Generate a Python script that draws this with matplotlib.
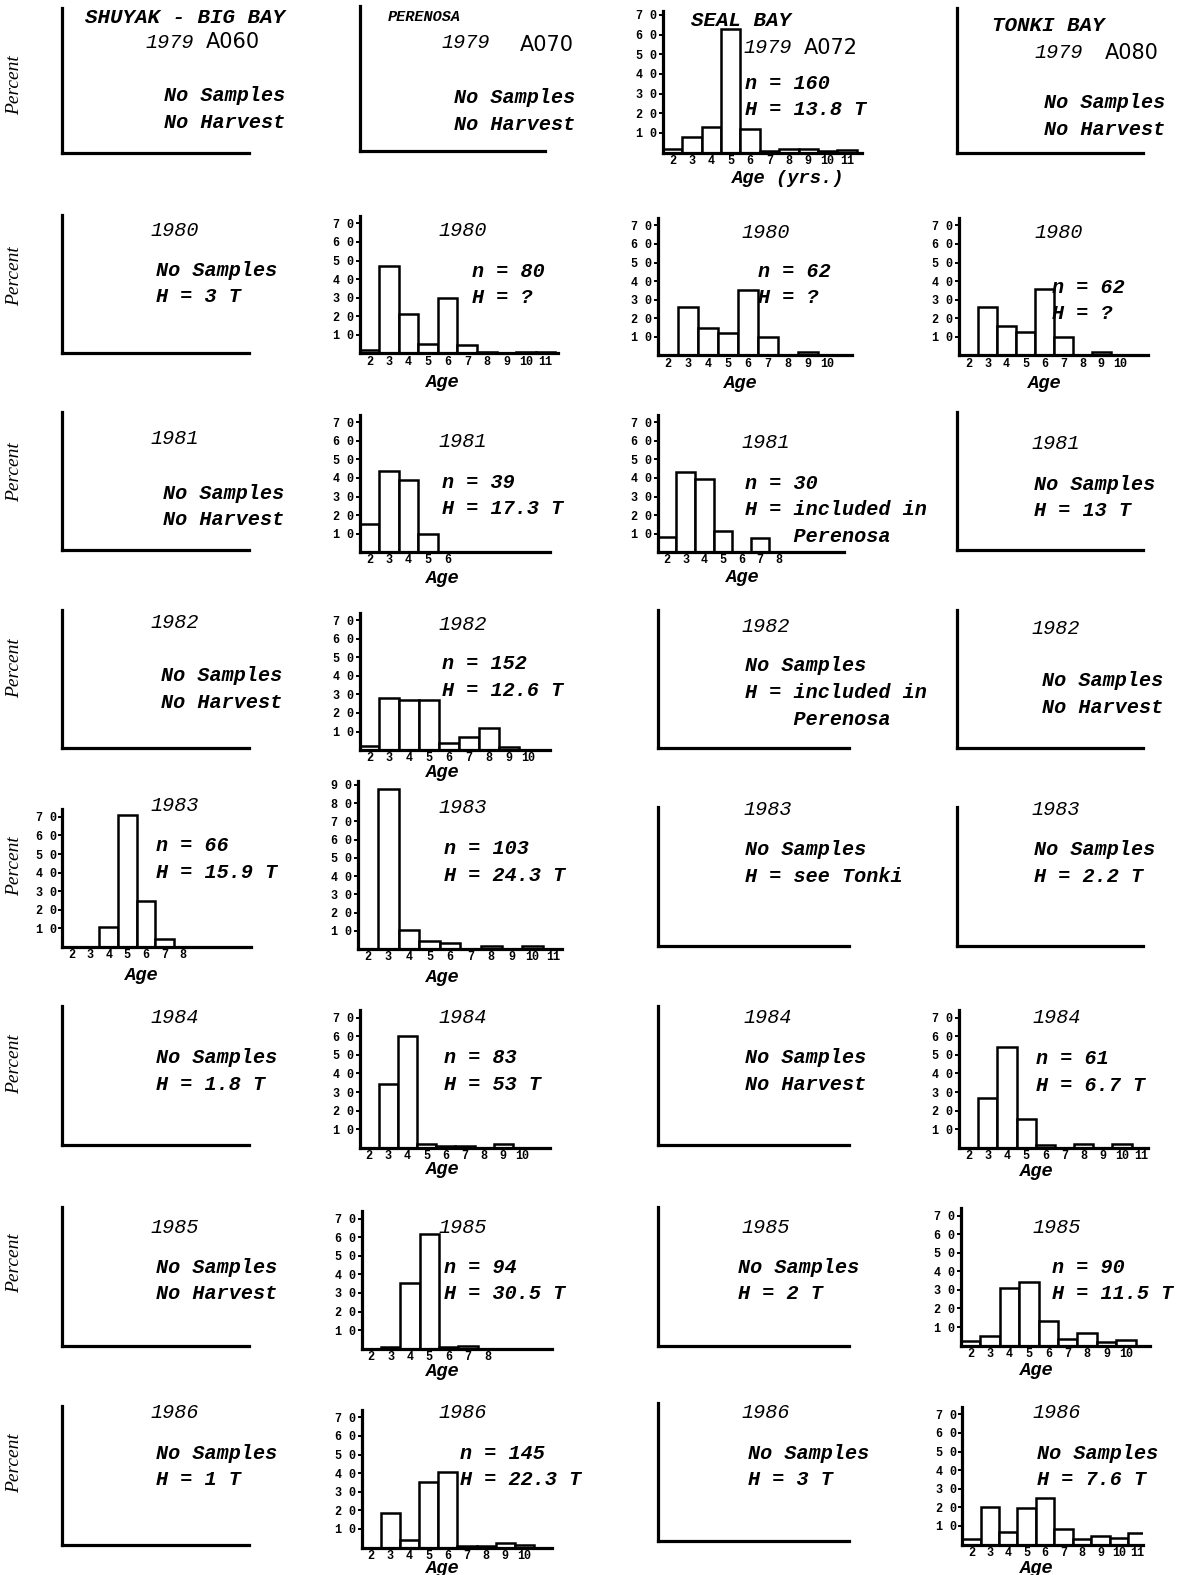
import matplotlib
matplotlib.use("Agg")
import matplotlib.pyplot as plt

# ---------------- data (percent by age) ----------------
ages = [2, 3, 4, 5, 6, 7, 8, 9, 10, 11]
areas = ["SHUYAK - BIG BAY", "PERENOSA", "SEAL BAY", "TONKI BAY"]
area_codes = ["A060", "A070", "A072", "A080"]
years = ["1979", "1980", "1981", "1982", "1983", "1984", "1985", "1986"]

seal_1979 = [2, 8, 13, 63, 12, 1, 2, 2, 1, 1.5]
perenosa_1980 = [2, 47, 21, 5, 30, 4.5, 1, 0, 1, 1]
seal_1980 = [0, 26, 15, 12, 35, 10, 0, 2, 0]
tonki_1980 = [0, 26, 16, 12.5, 35.5, 10, 0, 2, 0]
perenosa_1981 = [15, 44, 39, 10, 0]
seal_1981 = [8, 43, 39.5, 11.5, 0, 7.5, 0]
perenosa_1982 = [2, 28, 27, 27, 4, 7, 12, 1.5, 0]
shuyak_1983 = [0, 0, 11, 71, 25, 4.5, 0]
perenosa_1983 = [0, 88, 10.5, 4.5, 3.5, 0, 1.5, 0, 1.5, 0]
perenosa_1984 = [0, 34.5, 60, 2, 1, 1, 0, 2, 0]
tonki_1984 = [0, 27, 54.5, 15.5, 1.3, 0, 1.8, 0, 1.8, 0]
perenosa_1985 = [0, 0.7, 35.5, 61.5, 0.7, 1.2, 0]
tonki_1985 = [2.5, 5.3, 30.8, 34.4, 13.4, 3.6, 6.8, 1.8, 3.2]
perenosa_1986 = [0, 18.5, 4, 35, 40.5, 1, 1, 2.2, 1.3]
tonki_1986 = [3, 20, 6.5, 19.5, 25, 8.5, 3, 4.5, 3.3, 6]

# annotations per (row, col)
notes = {
    (0, 0): ["No Samples", "No Harvest"], (0, 1): ["No Samples", "No Harvest"],
    (0, 2): ["n = 160", "H = 13.8 T"], (0, 3): ["No Samples", "No Harvest"],
    (1, 0): ["No Samples", "H = 3 T"], (1, 1): ["n = 80", "H = ?"],
    (1, 2): ["n = 62", "H = ?"], (1, 3): ["n = 62", "H = ?"],
    (2, 0): ["No Samples", "No Harvest"], (2, 1): ["n = 39", "H = 17.3 T"],
    (2, 2): ["n = 30", "H = included in", "    Perenosa"], (2, 3): ["No Samples", "H = 13 T"],
    (3, 0): ["No Samples", "No Harvest"], (3, 1): ["n = 152", "H = 12.6 T"],
    (3, 2): ["No Samples", "H = included in", "    Perenosa"], (3, 3): ["No Samples", "No Harvest"],
    (4, 0): ["n = 66", "H = 15.9 T"], (4, 1): ["n = 103", "H = 24.3 T"],
    (4, 2): ["No Samples", "H = see Tonki"], (4, 3): ["No Samples", "H = 2.2 T"],
    (5, 0): ["No Samples", "H = 1.8 T"], (5, 1): ["n = 83", "H = 53 T"],
    (5, 2): ["No Samples", "No Harvest"], (5, 3): ["n = 61", "H = 6.7 T"],
    (6, 0): ["No Samples", "No Harvest"], (6, 1): ["n = 94", "H = 30.5 T"],
    (6, 2): ["No Samples", "H = 2 T"], (6, 3): ["n = 90", "H = 11.5 T"],
    (7, 0): ["No Samples", "H = 1 T"], (7, 1): ["n = 145", "H = 22.3 T"],
    (7, 2): ["No Samples", "H = 3 T"], (7, 3): ["No Samples", "H = 7.6 T"],
}

hist_data = {
    (0, 2): seal_1979, (1, 1): perenosa_1980, (1, 2): seal_1980, (1, 3): tonki_1980,
    (2, 1): perenosa_1981, (2, 2): seal_1981, (3, 1): perenosa_1982,
    (4, 0): shuyak_1983, (4, 1): perenosa_1983, (5, 1): perenosa_1984,
    (5, 3): tonki_1984, (6, 1): perenosa_1985, (6, 3): tonki_1985,
    (7, 1): perenosa_1986, (7, 3): tonki_1986,
}

# ---------------- layout (pixel positions in reference image) ----------------
W, H = 1186, 1575
S = 1186 / 1181
fig = plt.figure(figsize=(W / 100, H / 100), dpi=100)

MONO = "Liberation Mono"
SERIF = "Liberation Serif"

col_left = [62, 358, 655, 953]
row_bottom = [
    [152, 150, 152, 152],
    [352, 352, 354, 354],
    [548, 550, 550, 548],
    [745, 747, 745, 745],
    [943, 945, 942, 942],
    [1140, 1143, 1140, 1143],
    [1340, 1343, 1340, 1340],
    [1538, 1541, 1535, 1538],
]
empty_width = [186, 185, 190, 185]

# hist layout: (left, width, ymax, height, xright, ageLabel x-center, ageLabel y)
hist_layout = {
    (0, 2): (660, 198, 72, 141, 11.75, 785, 178),
    (1, 1): (358, 198, 74, 137, 11.65, 441, 381),
    (1, 2): (655, 193, 74, 137, 11.2, 738, 382),
    (1, 3): (955, 188, 74, 137, 11.45, 1040, 382),
    (2, 1): (358, 190, 74, 137, 11.25, 441, 576),
    (2, 2): (655, 185, 74, 137, 11.5, 740, 575),
    (3, 1): (358, 190, 74, 137, 11.1, 441, 769),
    (4, 0): (62, 188, 74, 137, 11.66, 141, 971),
    (4, 1): (356, 204, 92, 167, 11.45, 441, 973),
    (5, 1): (358, 190, 74, 137, 11.45, 441, 1165),
    (5, 3): (955, 188, 74, 137, 11.35, 1032, 1167),
    (6, 1): (360, 190, 74, 137, 11.35, 441, 1366),
    (6, 3): (957, 188, 74, 137, 11.24, 1032, 1365),
    (7, 1): (360, 190, 74, 137, 11.45, 441, 1562),
    (7, 3): (958, 180, 74, 137, 11.3, 1032, 1562),
}

note_pos = [
    [(163, 95), (452, 97), (742, 83), (1040, 102)],
    [(155, 269), (470, 270), (755, 270), (1048, 286)],
    [(162, 491), (440, 480), (742, 481), (1030, 482)],
    [(160, 673), (440, 661), (742, 663), (1038, 678)],
    [(155, 842), (442, 845), (742, 846), (1030, 846)],
    [(155, 1053), (442, 1053), (742, 1053), (1032, 1054)],
    [(155, 1262), (442, 1262), (735, 1262), (1048, 1262)],
    [(155, 1447), (458, 1447), (745, 1447), (1033, 1447)],
]
year_pos = [
    [(145, 42), (440, 42), (740, 47), (1030, 52)],
    [(150, 230), (437, 230), (738, 232), (1030, 232)],
    [(150, 437), (437, 440), (738, 441), (1027, 442)],
    [(150, 620), (437, 622), (738, 624), (1027, 626)],
    [(150, 802), (437, 804), (740, 806), (1027, 806)],
    [(150, 1013), (437, 1013), (740, 1013), (1028, 1013)],
    [(150, 1222), (437, 1222), (738, 1222), (1028, 1222)],
    [(150, 1407), (437, 1407), (738, 1407), (1028, 1407)],
]
header_pos = [(85, 17), (386, 17), (688, 20), (988, 25)]
header_size = [15, 11, 15, 15]
code_pos = [(205, 42), (518, 45), (800, 48), (1100, 53)]
percent_y = [85, 275, 470, 665, 862, 1060, 1258, 1457]
LINE = 26.5


def fx(x):
    return x * S / W


def fy(y):
    return 1 - y * S / H


def txt(x, y, s, size=14.5, weight="bold", style="italic", family=MONO, ha="left", **kw):
    fig.text(fx(x), fy(y), s, fontsize=size, fontweight=weight, fontstyle=style,
             family=family, ha=ha, va="center", **kw)


def add_ax(left, bottom, width, height):
    return fig.add_axes([fx(left), fy(bottom), width * S / W, height * S / H])


def style_spines(ax):
    for sp in ["top", "right"]:
        ax.spines[sp].set_visible(False)
    for sp in ["left", "bottom"]:
        ax.spines[sp].set_linewidth(2.3)
        ax.spines[sp].set_color("black")
        ax.spines[sp].set_zorder(5)


for r in range(8):
    for c in range(4):
        key = (r, c)
        bottom = row_bottom[r][c]
        if key in hist_data:
            vals = hist_data[key]
            left, width, ymax, height, xr, agx, agy = hist_layout[key]
            ax = add_ax(left, bottom, width, height)
            ax.set_facecolor("none")
            xs = ages[:len(vals)]
            ax.bar(xs, vals, width=1.0, facecolor="white", edgecolor="black",
                   linewidth=1.8, zorder=2)
            ax.set_xlim(1.5, xr)
            ax.set_ylim(0, ymax)
            style_spines(ax)
            top_tick = 90 if ymax > 80 else 70
            yt = list(range(10, top_tick + 1, 10))
            ax.set_yticks(yt)
            ax.set_yticklabels([f"{v // 10} 0" for v in yt], fontsize=8.5,
                               fontweight="bold", family=MONO)
            ax.set_xticks(xs)
            ax.set_xticklabels([str(a) for a in xs], fontsize=8.5,
                               fontweight="bold", family=MONO)
            ax.tick_params(axis="y", length=3, width=1.4, pad=1)
            ax.tick_params(axis="x", length=0, pad=1.5)
            age_label = "Age (yrs.)" if key == (0, 2) else "Age"
            txt(agx, agy, age_label, size=13.5, ha="center")
        else:
            top_h = 144 if r == 0 else 138
            ax = add_ax(col_left[c], bottom, empty_width[c], top_h)
            ax.set_facecolor("none")
            style_spines(ax)
            ax.set_xticks([])
            ax.set_yticks([])

        # annotations
        nx, ny = note_pos[r][c]
        for i, line in enumerate(notes[key]):
            txt(nx, ny + i * LINE, line, size=14.5)

        # year labels
        yx, yy = year_pos[r][c]
        txt(yx, yy, years[r], size=14.5, weight="normal")

# headers
for c in range(4):
    hx, hy = header_pos[c]
    txt(hx, hy, areas[c], size=header_size[c])
    cx, cy = code_pos[c]
    txt(cx, cy, area_codes[c], size=15, weight="normal", style="normal", family="DejaVu Sans")

# Percent labels
for r in range(8):
    fig.text(fx(15), fy(percent_y[r]), "Percent", rotation=90, fontsize=14,
             fontstyle="italic", family=SERIF, ha="center", va="center")

fig.savefig("out.png", dpi=100, facecolor="white")
